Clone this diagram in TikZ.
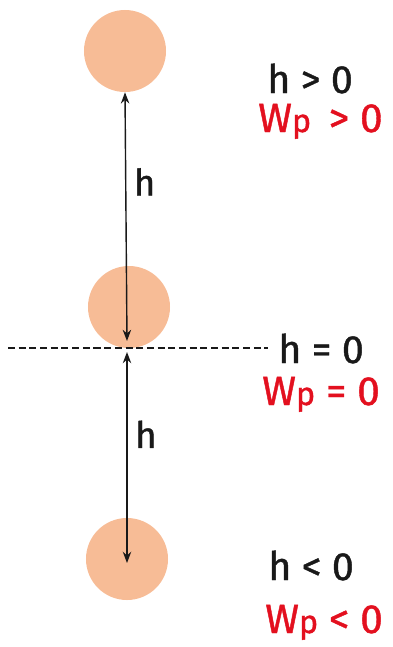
\documentclass[tikz,border=0pt]{standalone}
\usepackage{fontspec}
\setmainfont{Fira Sans}
\newfontfamily\inkfont[FakeBold=1]{Fira Sans}
\usepackage{tikz}
\usetikzlibrary{arrows.meta, positioning}
\definecolor{ballPeach}{HTML}{F7BC96}
\definecolor{markRed}{HTML}{E3101F}
\colorlet{inkDark}{black!90}
\newcommand{\wpot}{W{\fontsize{23}{23}\selectfont p}}

\begin{document}
\begin{tikzpicture}[x=0.025cm, y=-0.025cm,
  ball/.style={circle, fill=ballPeach, minimum size=2.05cm, inner sep=0pt},
  hlabel/.style={font=\inkfont\fontsize{28}{28}\selectfont, inkDark, anchor=base west, inner sep=0pt},
  wlabel/.style={font=\inkfont\fontsize{29}{29}\selectfont, markRed, anchor=base west, inner sep=0pt},
  dimarrow/.style={{Stealth[length=8pt, width=6pt]}-{Stealth[length=8pt, width=6pt]}, inkDark, line width=1pt}]
  \useasboundingbox (0,0) rectangle (393,647);
  % the three positions of the ball
  \node[ball] (top) at (125,51) {};
  \node[ball] (mid) at (129,307) {};
  \node[ball] (bot) at (127,559) {};
  % reference level
  \coordinate (lineL) at (8,348);
  \coordinate (lineR) at (268,348);
  \draw[inkDark, line width=1pt, dash pattern=on 5pt off 2.6pt] (lineL) -- (lineR);
  \coordinate (upEnd) at (127,341);
  \coordinate (lowStart) at (127,352);
  \coordinate (lowEnd) at (127,563);
  \draw[dimarrow] (upEnd) -- (top.south)
      node[pos=0.64, right=2pt, font=\inkfont\fontsize{26}{26}\selectfont, inkDark] (hA) {h};
  \draw[dimarrow] (lowStart) -- (lowEnd)
      node[pos=0.39, right=2pt, font=\inkfont\fontsize{26}{26}\selectfont, inkDark] (hB) {h};
  % signs of h and W_p
  \node[hlabel] (hPos) at (267,93) {h > 0};
  \node[wlabel] (wPos) at (258,132) {\wpot{}\, > 0};
  \node[hlabel] (hZero) at (278,363) {h = 0};
  \node[wlabel] (wZero) at (262,405) {\wpot{} = 0};
  \node[hlabel] (hNeg) at (268,580) {h < 0};
  \node[wlabel] (wNeg) at (265,633) {\wpot{} < 0};
\end{tikzpicture}
\end{document}
